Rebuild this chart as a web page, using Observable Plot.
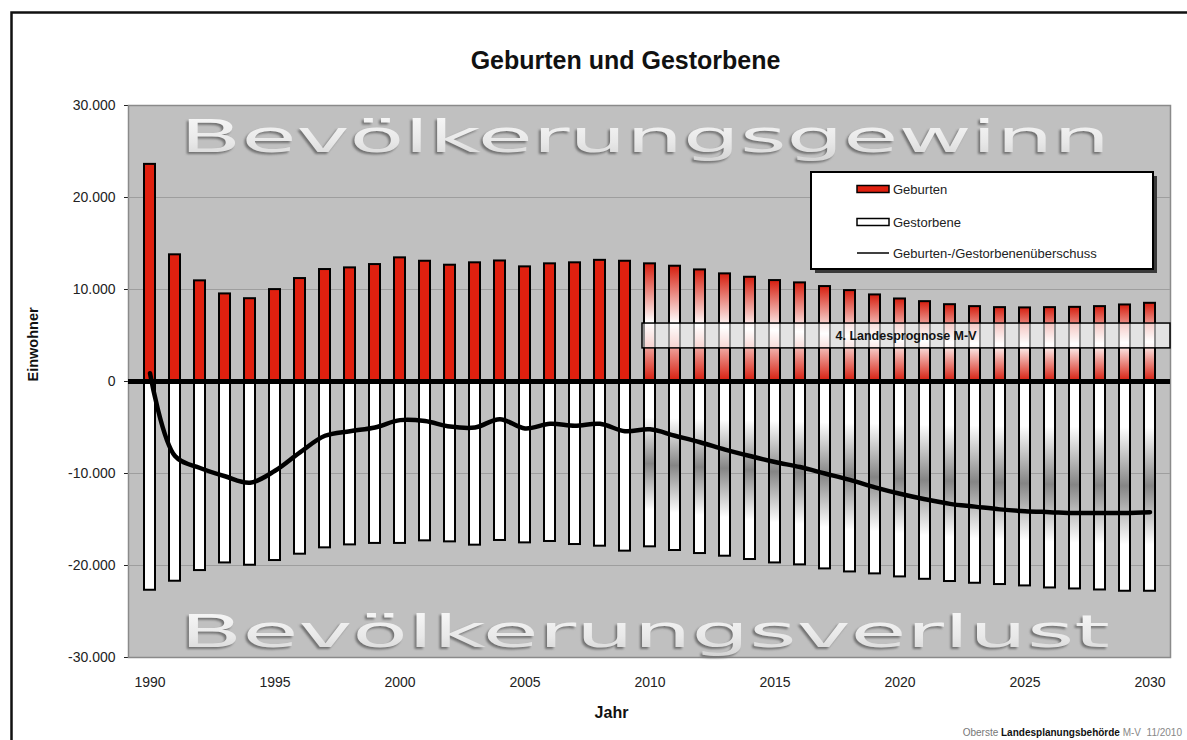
<!DOCTYPE html>
<html><head><meta charset="utf-8">
<script src="https://cdn.jsdelivr.net/npm/d3@7"></script>
<script src="https://cdn.jsdelivr.net/npm/@observablehq/plot@0.6"></script>
<style>
html,body{margin:0;padding:0;background:#fff;}
#chart{width:1187px;height:740px;overflow:hidden;}
</style></head><body><div id="chart"></div>
<script>
// ---------- data ----------
const years = [1990,1991,1992,1993,1994,1995,1996,1997,1998,1999,2000,2001,2002,2003,2004,2005,2006,2007,2008,2009,
  2010,2011,2012,2013,2014,2015,2016,2017,2018,2019,2020,2021,2022,2023,2024,2025,2026,2027,2028,2029,2030];
const births = [23600,13770,10940,9520,9000,9990,11190,12170,12350,12710,13440,13070,12640,12900,13100,12460,12790,12900,13170,13070,
  12790,12530,12130,11700,11330,10970,10720,10320,9880,9410,8970,8680,8350,8140,8030,8000,8030,8060,8140,8320,8500];
const deaths = [22690,21710,20550,19720,19970,19460,18770,18080,17760,17600,17600,17320,17430,17790,17280,17540,17390,17720,17900,18440,
  17970,18370,18700,18990,19350,19720,19930,20370,20700,20910,21240,21500,21740,21930,22070,22220,22440,22550,22660,22800,22800];
const surplus = [900,-8100,-9400,-10300,-11000,-9700,-7700,-5900,-5400,-5000,-4200,-4300,-4900,-5000,-4100,-5100,-4600,-4800,-4600,-5400,
  -5200,-5900,-6600,-7400,-8100,-8750,-9300,-10000,-10700,-11500,-12200,-12800,-13300,-13600,-13900,-14100,-14200,-14300,-14300,-14300,-14200];
const forecastStart = 2010;
const yTicks = [-30000,-20000,-10000,0,10000,20000,30000];
const xTickYears = [1990,1995,2000,2005,2010,2015,2020,2025,2030];
const legendLabels = ["Geburten","Gestorbene","Geburten-/Gestorbenenüberschuss"];
const titleText = "Geburten und Gestorbene";
const xLabel = "Jahr";
const yLabel = "Einwohner";
const watermarkTop = "Bevölkerungsgewinn";
const watermarkBottom = "Bevölkerungsverlust";
const forecastLabel = "4. Landesprognose M-V";
const footerParts = ["Oberste ", "Landesplanungsbehörde", " M-V  11/2010"];

// ---------- table ----------
const rows = years.map((year, i) => ({year, births: births[i], deaths: -deaths[i], surplus: surplus[i], forecast: year >= forecastStart}));
const hist = rows.filter(d => !d.forecast);
const fc = rows.filter(d => d.forecast);

const fmt = d => (d < 0 ? "-" : "") + d3.format(",")(Math.abs(d)).replace(/,/g, ".");

// ---------- custom marks ----------
const defsMark = () => {
  const defs = d3.create("svg:defs");
  const red = defs.append("linearGradient").attr("id", "gRed").attr("x1", 0).attr("y1", 0).attr("x2", 0).attr("y2", 1);
  [[0, "#d61d0e"], [0.5, "#ffffff"], [1, "#d61d0e"]].forEach(([o, c]) => red.append("stop").attr("offset", o).attr("stop-color", c));
  const gray = defs.append("linearGradient").attr("id", "gGray").attr("x1", 0).attr("y1", 0).attr("x2", 0).attr("y2", 1);
  [[0, "#ffffff"], [0.22, "#ffffff"], [0.5, "#858585"], [0.78, "#ffffff"], [1, "#ffffff"]].forEach(([o, c]) => gray.append("stop").attr("offset", o).attr("stop-color", c));
  const wm = defs.append("linearGradient").attr("id", "gWm").attr("x1", 0).attr("y1", 0).attr("x2", 0).attr("y2", 1);
  [[0, "#fafafa"], [0.6, "#e8e8e8"], [1, "#d2d2d2"]].forEach(([o, c]) => wm.append("stop").attr("offset", o).attr("stop-color", c));
  const f = defs.append("filter").attr("id", "soft");
  f.append("feGaussianBlur").attr("stdDeviation", 1.3);
  return defs.node();
};

const watermarkMark = (index, scales, values, dims) => {
  const g = d3.create("svg:g").attr("font-family", "DejaVu Sans, sans-serif").attr("font-size", 45).attr("text-anchor", "start");
  const x0 = dims.marginLeft + 52;
  const len = 930;
  const items = [[watermarkTop, dims.marginTop + 47], [watermarkBottom, dims.height - dims.marginBottom - 10]];
  for (const [t, y] of items) {
    g.append("text").attr("x", x0 - 2).attr("y", y + 2).attr("textLength", len).attr("lengthAdjust", "spacingAndGlyphs")
      .attr("fill", "#727272").attr("filter", "url(#soft)").text(t);
    g.append("text").attr("x", x0).attr("y", y).attr("textLength", len).attr("lengthAdjust", "spacingAndGlyphs")
      .attr("fill", "url(#gWm)").text(t);
  }
  return g.node();
};

const prognoseMark = (index, scales, values, dims) => {
  const g = d3.create("svg:g");
  const x1 = scales.x(forecastStart) - 2;
  const x2 = dims.width - dims.marginRight;
  const y1 = scales.y(6300), y2 = scales.y(3600);
  g.append("rect").attr("x", x1).attr("y", y1).attr("width", x2 - x1).attr("height", y2 - y1)
    .attr("fill", "#ffffff").attr("fill-opacity", 0.55).attr("stroke", "#000").attr("stroke-width", 1.5);
  g.append("text").attr("x", (x1 + x2) / 2).attr("y", (y1 + y2) / 2).attr("dy", "0.35em")
    .attr("text-anchor", "middle").attr("font-size", 12.5).attr("font-weight", "bold").attr("fill", "#111").text(forecastLabel);
  return g.node();
};

const legendMark = (index, scales, values, dims) => {
  const g = d3.create("svg:g").attr("font-size", 13).attr("text-anchor", "start");
  const right = dims.width - dims.marginRight;
  const bx = right - 359, by = dims.marginTop + 67, bw = 342, bh = 97;
  g.append("rect").attr("x", bx + 4).attr("y", by + 4).attr("width", bw).attr("height", bh).attr("fill", "#3a3a3a");
  g.append("rect").attr("x", bx).attr("y", by).attr("width", bw).attr("height", bh).attr("fill", "#fff").attr("stroke", "#000").attr("stroke-width", 2);
  const ys = [by + 17, by + 50, by + 81];
  const sx = bx + 46;
  g.append("rect").attr("x", sx).attr("y", ys[0] - 3.5).attr("width", 32).attr("height", 7).attr("fill", "#e0200f").attr("stroke", "#000").attr("stroke-width", 1.5);
  g.append("rect").attr("x", sx).attr("y", ys[1] - 3.5).attr("width", 32).attr("height", 7).attr("fill", "#fff").attr("stroke", "#000").attr("stroke-width", 1.5);
  g.append("line").attr("x1", sx).attr("x2", sx + 32).attr("y1", ys[2]).attr("y2", ys[2]).attr("stroke", "#000").attr("stroke-width", 1.5);
  legendLabels.forEach((t, i) => g.append("text").attr("x", sx + 36).attr("y", ys[i]).attr("dy", "0.35em").attr("fill", "#222").text(t));
  return g.node();
};

const footerMark = (index, scales, values, dims) => {
  const t = d3.create("svg:text").attr("x", dims.width - 5).attr("y", dims.height - 4).attr("text-anchor", "end").attr("font-size", 10);
  t.append("tspan").attr("fill", "#777").text(footerParts[0]);
  t.append("tspan").attr("fill", "#111").attr("font-weight", "bold").text(footerParts[1]);
  t.append("tspan").attr("fill", "#888").text(footerParts[2]);
  return t.node();
};

const borderMark = (index, scales, values, dims) =>
  d3.create("svg:rect").attr("x", 11.5).attr("y", 12.5).attr("width", dims.width + 20).attr("height", dims.height + 20)
    .attr("fill", "none").attr("stroke", "#111").attr("stroke-width", 2.5).node();

// ---------- plot ----------
const chart = Plot.plot({
  width: 1187,
  height: 740,
  marginLeft: 128,
  marginRight: 17,
  marginTop: 105,
  marginBottom: 83,
  style: {fontFamily: "'Liberation Sans', Arial, sans-serif", fontSize: "14px", color: "#222", background: "#fff"},
  x: {type: "band", domain: years, paddingInner: 0.567, paddingOuter: 0.33, tickSize: 0, tickPadding: 20,
      tickFormat: d => xTickYears.includes(d) ? String(d) : "", label: null},
  y: {domain: [-30000, 30000], ticks: yTicks, tickFormat: fmt, tickSize: 4, tickPadding: 9, label: null},
  marks: [
    defsMark,
    borderMark,
    Plot.frame({fill: "#c0c0c0", stroke: "#8a8a8a", strokeWidth: 1.5}),
    Plot.ruleY(yTicks.filter(d => d !== 0 && Math.abs(d) !== 30000), {stroke: "#9e9e9e", strokeWidth: 1.2}),
    watermarkMark,
    Plot.barY(hist, {x: "year", y: "births", fill: "#e0200f", stroke: "#000", strokeWidth: 2}),
    Plot.barY(fc, {x: "year", y: "births", fill: "url(#gRed)", stroke: "#000", strokeWidth: 2}),
    Plot.barY(hist, {x: "year", y: "deaths", fill: "#ffffff", stroke: "#000", strokeWidth: 2}),
    Plot.barY(fc, {x: "year", y: "deaths", fill: "url(#gGray)", stroke: "#000", strokeWidth: 2}),
    Plot.ruleY([0], {stroke: "#000", strokeWidth: 5}),
    prognoseMark,
    Plot.line(rows, {x: "year", y: "surplus", curve: "catmull-rom", stroke: "#000", strokeWidth: 4.5}),
    legendMark,
    Plot.text([titleText], {text: d => d, frameAnchor: "top", lineAnchor: "middle", dx: -24, dy: -45, fontSize: 25, fontWeight: "bold", fill: "#111"}),
    Plot.text([yLabel], {text: d => d, frameAnchor: "left", lineAnchor: "middle", dx: -95, rotate: -90, fontSize: 14.5, fontWeight: "bold", fill: "#111"}),
    Plot.text([xLabel], {text: d => d, frameAnchor: "bottom", lineAnchor: "middle", dx: -38, dy: 55, fontSize: 16, fontWeight: "bold", fill: "#111"}),
    footerMark
  ]
});
document.getElementById("chart").appendChild(chart);
</script>
</body></html>
